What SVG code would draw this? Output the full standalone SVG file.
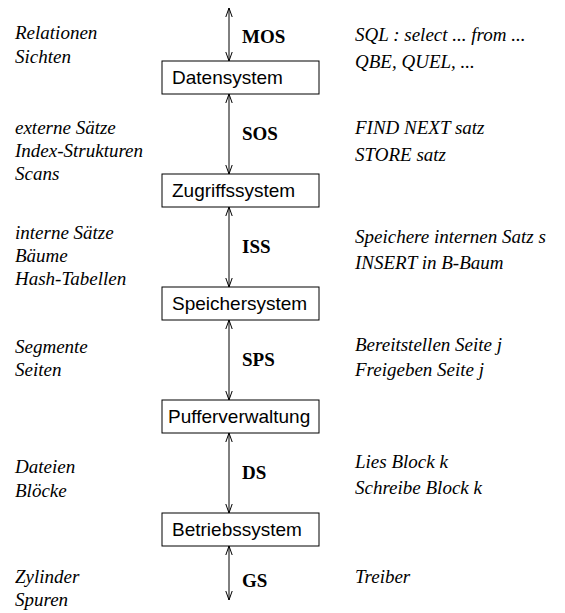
<svg xmlns="http://www.w3.org/2000/svg" width="565" height="613" viewBox="0 0 565 613">
  <defs>
    <marker id="head" markerUnits="userSpaceOnUse" markerWidth="12" markerHeight="10" viewBox="0 0 12 10" refX="10" refY="5" orient="auto-start-reverse">
      <path d="M1,1.8 L10,5 L1,8.2" fill="none" stroke="#000" stroke-width="1"/>
    </marker>
  </defs>
  <style>
    .box { fill: #fff; stroke: #000; stroke-width: 1; }
    .name { font-family: "Liberation Sans", Arial, sans-serif; font-size: 19px; fill: #000; }
    .lvl { font-family: "Liberation Serif", "Times New Roman", serif; font-size: 19px; font-style: italic; fill: #000; }
    .ifc { font-family: "Liberation Serif", "Times New Roman", serif; font-size: 19px; font-weight: bold; fill: #000; }
    .link { stroke: #000; stroke-width: 1; fill: none; marker-start: url(#head); marker-end: url(#head); }
  </style>

  <!-- interfaces between the layers -->
  <g id="connectors">
    <line class="link" x1="229" y1="8" x2="229" y2="61"/>
    <line class="link" x1="229" y1="94" x2="229" y2="174"/>
    <line class="link" x1="229" y1="207" x2="229" y2="287"/>
    <line class="link" x1="229" y1="320" x2="229" y2="400"/>
    <line class="link" x1="229" y1="433" x2="229" y2="513"/>
    <line class="link" x1="229" y1="546" x2="229" y2="600"/>
    <text class="ifc" x="242" y="43">MOS</text>
    <text class="ifc" x="242" y="140">SOS</text>
    <text class="ifc" x="242" y="253">ISS</text>
    <text class="ifc" x="242" y="366">SPS</text>
    <text class="ifc" x="242" y="479">DS</text>
    <text class="ifc" x="242" y="587">GS</text>
  </g>

  <!-- layers -->
  <g id="datensystem">
    <rect class="box" x="162" y="61" width="157" height="33"/>
    <text class="name" x="172" y="84">Datensystem</text>
  </g>
  <g id="zugriffssystem">
    <rect class="box" x="162" y="174" width="157" height="33"/>
    <text class="name" x="172" y="197">Zugriffssystem</text>
  </g>
  <g id="speichersystem">
    <rect class="box" x="162" y="287" width="157" height="33"/>
    <text class="name" x="172" y="310">Speichersystem</text>
  </g>
  <g id="pufferverwaltung">
    <rect class="box" x="162" y="400" width="157" height="33"/>
    <text class="name" x="168" y="423">Pufferverwaltung</text>
  </g>
  <g id="betriebssystem">
    <rect class="box" x="162" y="513" width="157" height="33"/>
    <text class="name" x="172" y="536">Betriebssystem</text>
  </g>

  <!-- objects handled at each interface -->
  <g id="objects">
    <text class="lvl" x="15" y="39">Relationen</text>
    <text class="lvl" x="15" y="63">Sichten</text>
    <text class="lvl" x="15" y="134">externe Sätze</text>
    <text class="lvl" x="15" y="157">Index-Strukturen</text>
    <text class="lvl" x="15" y="180">Scans</text>
    <text class="lvl" x="15" y="239">interne Sätze</text>
    <text class="lvl" x="15" y="262">Bäume</text>
    <text class="lvl" x="15" y="285">Hash-Tabellen</text>
    <text class="lvl" x="15" y="353">Segmente</text>
    <text class="lvl" x="15" y="376">Seiten</text>
    <text class="lvl" x="15" y="473">Dateien</text>
    <text class="lvl" x="15" y="497">Blöcke</text>
    <text class="lvl" x="15" y="583">Zylinder</text>
    <text class="lvl" x="15" y="606">Spuren</text>
  </g>

  <!-- typical operations at each interface -->
  <g id="operations">
    <text class="lvl" x="355" y="41">SQL : select ... from ...</text>
    <text class="lvl" x="355" y="68">QBE, QUEL, ...</text>
    <text class="lvl" x="355" y="134">FIND NEXT satz</text>
    <text class="lvl" x="355" y="161">STORE satz</text>
    <text class="lvl" x="355" y="243">Speichere internen Satz s</text>
    <text class="lvl" x="355" y="269">INSERT in B-Baum</text>
    <text class="lvl" x="355" y="351">Bereitstellen Seite j</text>
    <text class="lvl" x="355" y="376">Freigeben Seite j</text>
    <text class="lvl" x="355" y="468">Lies Block k</text>
    <text class="lvl" x="355" y="494">Schreibe Block k</text>
    <text class="lvl" x="355" y="583">Treiber</text>
  </g>
</svg>
